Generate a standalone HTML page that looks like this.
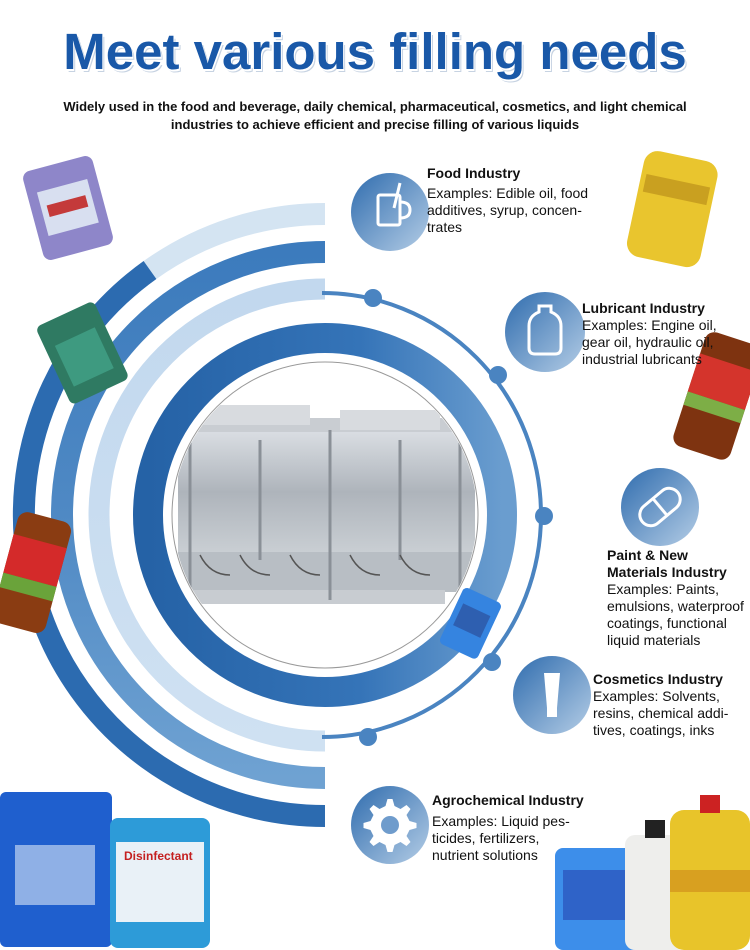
<!DOCTYPE html>
<html><head><meta charset="utf-8"><style>
body{margin:0;background:#fff;}
#w{position:relative;width:750px;height:950px;overflow:hidden;font-family:"Liberation Sans",sans-serif;}
.t{position:absolute;color:#111;font-size:14px;line-height:17px;}
.t b{display:block;font-size:14px;}
</style></head><body><div id="w">
<svg width="750" height="950" style="position:absolute;left:0;top:0">
<defs>
<linearGradient id="r2" x1="0" y1="252" x2="0" y2="778" gradientUnits="userSpaceOnUse"><stop offset="0" stop-color="#3c7bbd"/><stop offset="0.5" stop-color="#4f89c4"/><stop offset="1" stop-color="#6fa2d2"/></linearGradient>
<linearGradient id="r3" x1="0" y1="289" x2="0" y2="741" gradientUnits="userSpaceOnUse"><stop offset="0" stop-color="#c2d8ee"/><stop offset="1" stop-color="#cfe1f2"/></linearGradient>
<linearGradient id="ri" x1="148" y1="0" x2="502" y2="0" gradientUnits="userSpaceOnUse"><stop offset="0" stop-color="#2562a6"/><stop offset="0.6" stop-color="#3574b8"/><stop offset="1" stop-color="#6a9dcf"/></linearGradient>
<linearGradient id="ic" x1="0" y1="0" x2="1" y2="1"><stop offset="0" stop-color="#2f6cae"/><stop offset="1" stop-color="#b4cde6"/></linearGradient>
<linearGradient id="mg" x1="0" y1="0" x2="0" y2="1"><stop offset="0" stop-color="#d9dde2"/><stop offset="0.5" stop-color="#aeb4bb"/><stop offset="1" stop-color="#c9ced3"/></linearGradient>
<clipPath id="cc"><circle cx="325" cy="515" r="152"/></clipPath>
</defs>
<!-- rings -->
<path d="M325 214 A301 301 0 0 0 150 270" fill="none" stroke="#d4e4f2" stroke-width="22"/>
<path d="M150 270 A301 301 0 0 0 325 816" fill="none" stroke="#2c6bb0" stroke-width="22"/>
<path d="M325 252 A263 263 0 0 0 325 778" fill="none" stroke="url(#r2)" stroke-width="22"/>
<path d="M325 289 A226 226 0 0 0 325 741" fill="none" stroke="url(#r3)" stroke-width="21"/>
<circle cx="325" cy="515" r="177" fill="none" stroke="url(#ri)" stroke-width="30"/>
<path d="M322 293 A219 222 0 0 1 322 737" fill="none" stroke="#4a84c1" stroke-width="4"/>
<g fill="#4a84c1"><circle cx="373" cy="298" r="9"/><circle cx="498" cy="375" r="9"/><circle cx="544" cy="516" r="9"/><circle cx="492" cy="662" r="9"/><circle cx="368" cy="737" r="9"/></g>
<!-- image circle -->
<circle cx="325" cy="515" r="153" fill="#fff" stroke="#999" stroke-width="1"/>
<g clip-path="url(#cc)">
<rect x="180" y="418" width="295" height="14" fill="#c9cdd2"/>
<rect x="200" y="405" width="110" height="20" fill="#d8dbdf"/>
<rect x="340" y="410" width="100" height="20" fill="#d8dbdf"/>
<rect x="178" y="432" width="297" height="120" fill="url(#mg)"/>
<rect x="178" y="552" width="297" height="40" fill="#b8bec4"/>
<rect x="185" y="590" width="260" height="14" fill="#c8ccd1"/>
<g stroke="#8a9097" stroke-width="3"><line x1="190" y1="430" x2="190" y2="590"/><line x1="260" y1="440" x2="260" y2="560"/><line x1="330" y1="430" x2="330" y2="600"/><line x1="400" y1="440" x2="400" y2="560"/><line x1="460" y1="430" x2="460" y2="590"/></g>
<g stroke="#555" stroke-width="1.5" fill="none"><path d="M200 555 q10 20 30 20"/><path d="M240 555 q10 20 30 20"/><path d="M290 555 q10 20 30 20"/><path d="M350 555 q10 20 30 20"/><path d="M400 555 q10 20 30 20"/></g>
</g>
<!-- industry icons -->
<g fill="url(#ic)"><circle cx="390" cy="212" r="39"/><circle cx="545" cy="332" r="40"/><circle cx="660" cy="507" r="39"/><circle cx="552" cy="695" r="39"/><circle cx="390" cy="825" r="39"/></g>
<g fill="none" stroke="#fff" stroke-width="3">
<rect x="378" y="195" width="22" height="30" rx="2"/><path d="M400 202 q10 0 10 8 q0 8 -10 8"/><line x1="394" y1="208" x2="400" y2="183"/>
<path d="M539 306 h12 v6 q10 4 10 14 v22 q0 6 -6 6 h-20 q-6 0 -6 -6 v-22 q0 -10 10 -14z"/>
<g transform="rotate(-40 660 507)"><rect x="637" y="496" width="46" height="22" rx="11"/><line x1="660" y1="496" x2="660" y2="518"/></g>
<circle cx="390" cy="825" r="11"/>
</g>
<path d="M544 673 h16 l-3 35 h-10z" fill="#fff"/><rect x="547" y="708" width="10" height="9" fill="#fff"/>
<g fill="#fff"><path d="M390 799 l5 0 2 7 6 3 6 -4 4 4 -4 6 3 6 7 2 0 5 -7 2 -3 6 4 6 -4 4 -6 -4 -6 3 -2 7 -5 0 -2 -7 -6 -3 -6 4 -4 -4 4 -6 -3 -6 -7 -2 0 -5 7 -2 3 -6 -4 -6 4 -4 6 4 6 -3z" transform="translate(-2.5 0)"/></g>
<circle cx="390" cy="825" r="9" fill="#6f9ccc"/>
<!-- products -->
<g transform="rotate(-15 68 208)"><rect x="32" y="162" width="72" height="92" rx="8" fill="#8e86c9"/><rect x="42" y="185" width="52" height="45" fill="#d8dff0"/><rect x="48" y="200" width="40" height="12" fill="#c43a3a"/></g>
<g transform="rotate(-25 82 352)"><rect x="50" y="310" width="64" height="86" rx="6" fill="#2f7a62"/><rect x="60" y="335" width="44" height="45" fill="#3e9a80"/></g>
<g transform="rotate(15 32 570)"><rect x="5" y="515" width="55" height="115" rx="10" fill="#8a3c12"/><rect x="5" y="540" width="55" height="40" fill="#d42a2a"/><rect x="5" y="580" width="55" height="15" fill="#6aa33a"/></g>
<g transform="rotate(12 672 208)"><rect x="635" y="155" width="75" height="108" rx="14" fill="#e9c52e"/><rect x="640" y="180" width="65" height="18" fill="#c9a020"/></g>
<g transform="rotate(18 715 395)"><rect x="688" y="335" width="60" height="120" rx="10" fill="#7e3310"/><rect x="688" y="360" width="60" height="40" fill="#d4342c"/><rect x="688" y="400" width="60" height="14" fill="#7dae46"/></g>
<g transform="rotate(25 470 622)"><rect x="450" y="592" width="42" height="62" rx="5" fill="#3584e0"/><rect x="456" y="608" width="30" height="24" fill="#2e5fb0"/></g>
<rect x="0" y="792" width="112" height="155" rx="6" fill="#1f5fce"/><rect x="15" y="845" width="80" height="60" fill="#8fb0e6"/>
<rect x="110" y="818" width="100" height="130" rx="8" fill="#2d9bd8"/><rect x="116" y="842" width="88" height="80" fill="#e9f1f7"/>
<text x="124" y="860" font-family="Liberation Sans" font-size="12" font-weight="bold" fill="#c42020">Disinfectant</text>
<rect x="555" y="848" width="88" height="102" rx="8" fill="#3d8eea"/><rect x="563" y="870" width="72" height="50" fill="#2f63c8"/>
<rect x="625" y="835" width="62" height="115" rx="10" fill="#eeeeec"/><rect x="645" y="820" width="20" height="18" fill="#222"/>
<rect x="670" y="810" width="80" height="140" rx="14" fill="#e8c42a"/><rect x="670" y="870" width="80" height="22" fill="#d8a020"/><rect x="700" y="795" width="20" height="18" fill="#c22"/>
</svg>
<div style="position:absolute;left:0;width:750px;top:22px;text-align:center;font-size:51px;font-weight:bold;color:#1958a8;text-shadow:1px 2px 0 #fff,2px 3px 0 #c7d3e2;line-height:60px;">Meet various filling needs</div>
<div style="position:absolute;left:0;width:750px;top:98px;text-align:center;font-size:13px;font-weight:bold;line-height:18px;color:#111;">Widely used in the food and beverage, daily chemical, pharmaceutical, cosmetics, and light chemical<br>industries to achieve efficient and precise filling of various liquids</div>
<div class="t" style="left:427px;top:165px;"><b>Food Industry</b><span style="display:block;margin-top:3px">Examples: Edible oil, food<br>additives, syrup, concen-<br>trates</span></div>
<div class="t" style="left:582px;top:300px;"><b>Lubricant Industry</b>Examples: Engine oil,<br>gear oil, hydraulic oil,<br>industrial lubricants</div>
<div class="t" style="left:607px;top:547px;"><b>Paint &amp; New<br>Materials Industry</b>Examples: Paints,<br>emulsions, waterproof<br>coatings, functional<br>liquid materials</div>
<div class="t" style="left:593px;top:671px;"><b>Cosmetics Industry</b>Examples: Solvents,<br>resins, chemical addi-<br>tives, coatings, inks</div>
<div class="t" style="left:432px;top:792px;"><b>Agrochemical Industry</b><span style="display:block;margin-top:4px">Examples: Liquid pes-<br>ticides, fertilizers,<br>nutrient solutions</span></div>
</div></body></html>
